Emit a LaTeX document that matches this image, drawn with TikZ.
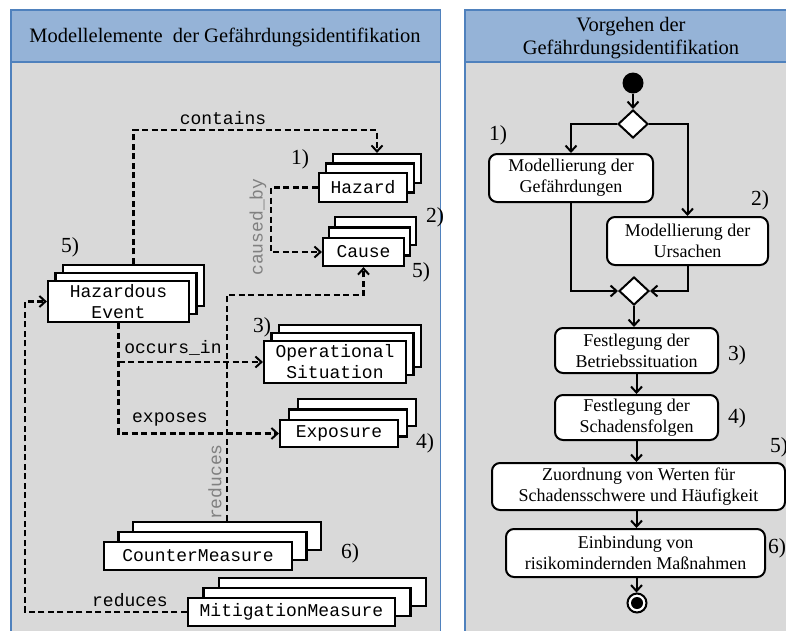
\documentclass[tikz,border=0pt]{standalone}
\usepackage{fontspec}
\setmainfont{Liberation Serif}
\setmonofont{Liberation Mono}
\usetikzlibrary{arrows.meta,shapes.geometric}

\definecolor{panelgray}{RGB}{217,217,217}
\definecolor{headblue}{RGB}{149,179,215}
\definecolor{frameblue}{RGB}{79,129,189}
\definecolor{labelgray}{RGB}{128,128,128}

\tikzset{
  panel/.style={draw=frameblue, line width=1.5pt, fill=panelgray},
  header/.style={draw=frameblue, line width=1.5pt, fill=headblue},
  headtext/.style={font=\fontsize{20.5}{22.5}\selectfont, align=center, inner sep=0pt},
  card/.style={draw=black, fill=white, line width=2.2pt, inner sep=0pt,
    font=\fontsize{18}{21}\selectfont\ttfamily, align=center},
  dep/.style={line width=2.3pt, dash pattern=on 6pt off 3.5pt,
    -{Straight Barb[length=6pt,width=11pt,line width=2pt]}},
  rel/.style={font=\fontsize{18}{21}\selectfont\ttfamily, inner sep=0pt},
  grayrel/.style={rel, text=labelgray, rotate=90},
  num/.style={font=\fontsize{21.5}{23}\selectfont, inner sep=0pt},
  action/.style={draw=black, fill=white, rounded corners=8pt, line width=2pt,
    align=center, inner sep=0pt, font=\fontsize{18}{21}\selectfont},
  decision/.style={diamond, draw=black, fill=white, line width=2pt,
    minimum width=30pt, minimum height=28pt, inner sep=0pt, aspect=1.07},
  flow/.style={line width=2pt, -{Straight Barb[length=6pt,width=11pt]}},
}

% #1 name, #2 centre of the front card, #3 width, #4 height,
% #5/#6 offset of each card behind it, #7 text
\newcommand\cardstack[7]{%
  \node[card, minimum width=#3pt, minimum height=#4pt,
        xshift=2*#5pt, yshift=2*#6pt] (#13) at (#2) {};
  \node[card, minimum width=#3pt, minimum height=#4pt,
        xshift=#5pt, yshift=#6pt] (#12) at (#2) {};
  \node[card, minimum width=#3pt, minimum height=#4pt] (#1) at (#2) {#7};
}

\begin{document}
\begin{tikzpicture}[x=1pt, y=-1pt]
  \useasboundingbox (0,0) rectangle (786,630);
  \clip (0,0) rectangle (786,630);

  % ---------- panels ----------
  \draw[panel] (11,10) rectangle (440.5,645);
  \draw[header] (11,10) rectangle (440.5,62);
  \draw[panel] (465,10) rectangle (800,645);
  \draw[header] (465,10) rectangle (800,62);

  \node[headtext] (lhead) at (225,37) {Modellelemente\ \ der Gefährdungsidentifikation};
  \node[headtext] (rhead) at (631,38) {Vorgehen\ der\\Gefährdungsidentifikation};

  % ---------- model elements ----------
  \cardstack{hz}{363,187.5}{88}{29}{7}{9.5}{Hazard}
  \cardstack{ca}{363.5,252}{81}{28}{6}{10.5}{Cause}
  \cardstack{he}{118.5,301.5}{141}{41}{7.5}{8}{Hazardous\\Event}
  \cardstack{os}{335,362}{142}{42}{7.5}{8}{Operational\\Situation}
  \cardstack{ex}{339,433.5}{118}{27}{9}{10.5}{Exposure}
  \cardstack{cm}{198,556}{188}{28}{14.5}{10}{CounterMeasure}
  \cardstack{mm}{291.5,612}{207}{28}{15.5}{10}{MitigationMeasure}

  \coordinate (containsrow) at (0,130);
  \coordinate (reducesrow) at (0,295);
  \coordinate (leftrail) at (25,0);

  % contains
  \draw[dep] (he3.north) |- (containsrow -| hz3.north) -- (hz3.north);
  \node[rel] (lcontains) at (223,118) {contains};

  % caused_by
  \draw[dep] (hz.west) -- ++(-47,0) |- (ca.west);
  \node[grayrel] (lcaused) at (258,227) {caused\_by};

  % CounterMeasure reduces Cause
  \draw[dep] (cm3.north) -- (reducesrow -| cm3.north) -| (ca.south);
  \node[grayrel] (lreduces1) at (215,482) {reduces};

  % occurs_in / exposes
  \draw[dep] (he.south) |- (ex.west);
  \draw[dep] (he.south |- os.west) -- (os.west);
  \node[rel] (loccurs) at (173,348) {occurs\_in};
  \node[rel] (lexposes) at (170,420) {exposes};

  % MitigationMeasure reduces Hazardous Event
  \draw[dep] (mm.west) -| (leftrail |- he.west) -- (he.west);
  \node[rel] (lreduces2) at (130,600) {reduces};

  % step numbers
  \node[num] (n1) at (300,159) {1)};
  \node[num] (n2) at (435,217) {2)};
  \node[num] (n5a) at (421,272) {5)};
  \node[num] (n5b) at (70,247) {5)};
  \node[num] (n3) at (262,327) {3)};
  \node[num] (n4) at (425,443) {4)};
  \node[num] (n6) at (350,553) {6)};

  % ---------- procedure ----------
  \node[circle, fill=black, minimum size=21pt, inner sep=0pt] (start) at (633,83) {};
  \node[decision] (d1) at (633,124) {};
  \node[action, minimum width=164pt, minimum height=48pt] (b1) at (571,178)
    {Modellierung der\\Gefährdungen};
  \node[action, minimum width=161pt, minimum height=48pt] (b2) at (687.5,241)
    {Modellierung der\\Ursachen};
  \node[decision] (d2) at (634,291) {};
  \node[action, minimum width=163pt, minimum height=45pt] (b3) at (636.5,350.5)
    {Festlegung der\\Betriebssituation};
  \node[action, minimum width=163pt, minimum height=45pt] (b4) at (636.5,417.5)
    {Festlegung der\\Schadensfolgen};
  \node[action, minimum width=293pt, minimum height=47pt] (b5) at (638.5,486.5)
    {Zuordnung von Werten für\\Schadensschwere und Häufigkeit};
  \node[action, minimum width=259pt, minimum height=48pt] (b6) at (635.5,553)
    {Einbindung von\\risikomindernden Maßnahmen};
  \node[circle, draw=black, line width=2pt, fill=white, minimum size=19pt,
        inner sep=0pt] (finish) at (637,603) {};
  \node[circle, fill=black, minimum size=12pt, inner sep=0pt] (finishdot) at (finish) {};

  \draw[flow] (start) -- (d1);
  \draw[flow] (d1.west) -| (b1.north);
  \draw[flow] (d1.east) -| (b2.north);
  \draw[flow] (b1.south) |- (d2.west);
  \draw[flow] (b2.south) |- (d2.east);
  \draw[flow] (d2.south) -- (d2.south |- b3.north);
  \draw[flow] (b3.south) -- (b3.south |- b4.north);
  \draw[flow] (b4.south) -- (b4.south |- b5.north);
  \draw[flow] (b4.south |- b5.south) -- (b4.south |- b6.north);
  \draw[flow] (b4.south |- b6.south) -- (finish.north -| b4.south);

  \node[num] (r1) at (498,135) {1)};
  \node[num] (r2) at (760,200) {2)};
  \node[num] (r3) at (737,355) {3)};
  \node[num] (r4) at (737,418) {4)};
  \node[num] (r5) at (779,447) {5)};
  \node[num] (r6) at (777,548) {6)};
\end{tikzpicture}
\end{document}
